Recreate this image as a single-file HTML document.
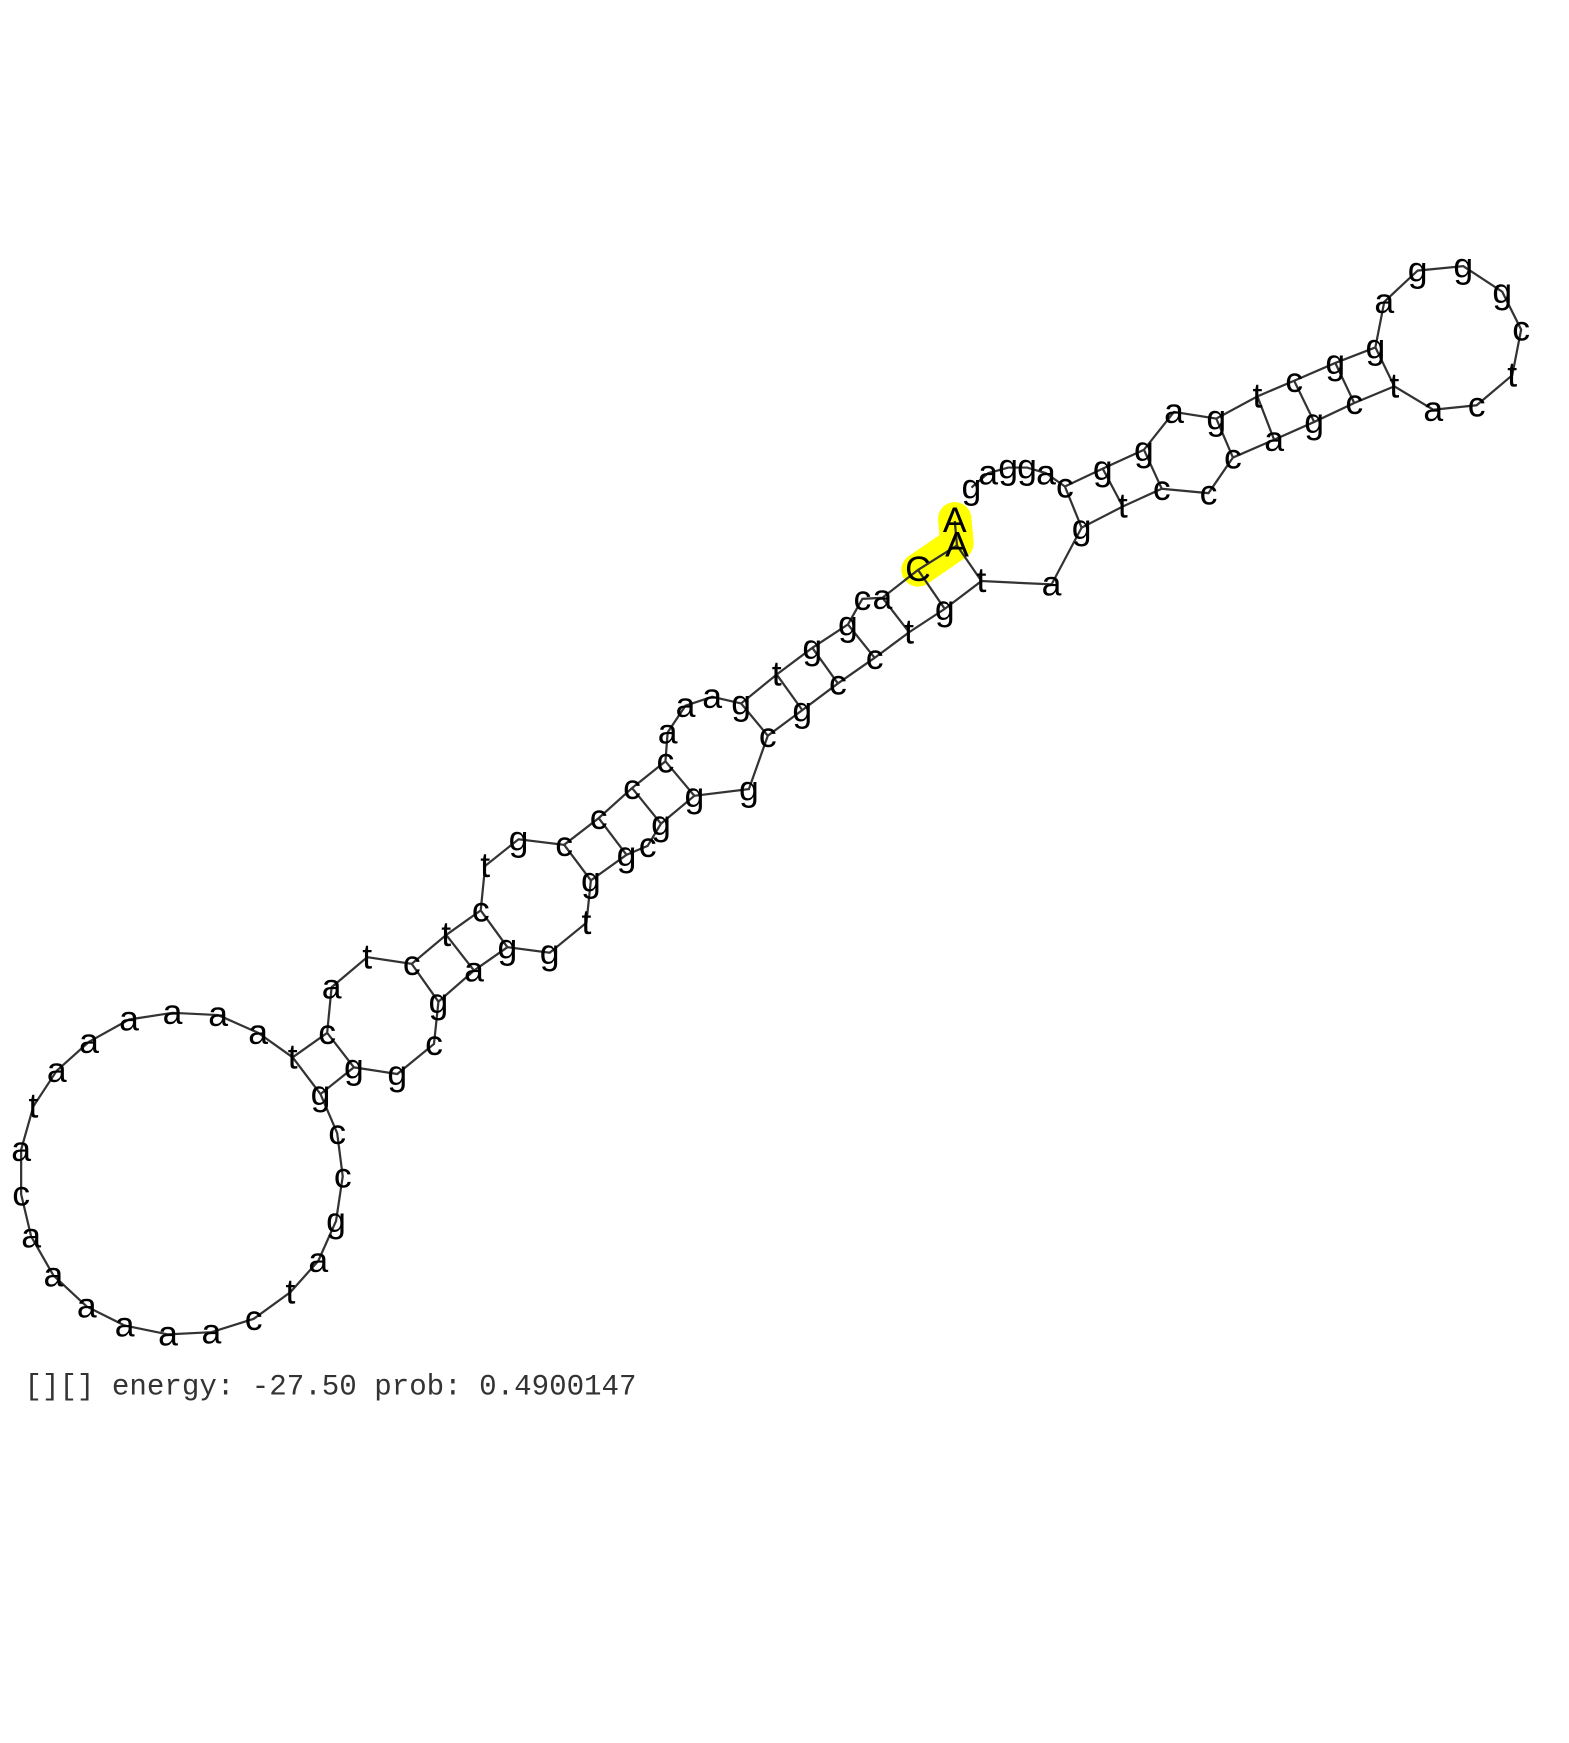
<!DOCTYPE html>
<html><head><meta charset="utf-8"><style>
html,body{margin:0;padding:0;background:#fff;}
svg{display:block;}
.n{font-family:"Liberation Sans",sans-serif;font-size:32px;fill:#000;text-anchor:middle;}
.t{font-family:"Liberation Mono",monospace;font-size:26.2px;fill:#333;}
</style></head><body>
<svg width="1569" height="1743" viewBox="0 0 1410 1566" xmlns="http://www.w3.org/2000/svg">
<rect width="1410" height="1566" fill="#fff"/>
<polyline points="858,466 860,488 825,512" fill="none" stroke="#ffff00" stroke-width="30" stroke-linecap="round" stroke-linejoin="round"/>
<polyline fill="none" stroke="#333" stroke-width="2" points="873,438 888,425 906,420 923,420 940,425 957,437 991,421 1028,404 1055,370 1093,376 1130,356 1163,342 1200,326 1236,312 1244,271 1274,243 1315,239 1350,262 1367,296 1359,337 1327,364 1288,368 1253,347 1217,362 1181,379 1145,395 1108,411 1086,443 1044,439 1009,455 972,474 945,525 882,522 849,547 817,568 786,591 753,614 721,638 690,661 673,709 624,715 594,740 582,760 563,768 531,791 527,829 494,856 456,851 426,872 394,900 390,938 357,965 318,959 288,983 303,1018 308,1057 302,1097 286,1133 261,1161 228,1185 190,1197 151,1199 112,1191 78,1174 48,1146 28,1111 19,1073 19,1033 30,994 51,962 80,936 116,916 155,910 196,912 232,928 263,950 294,928 298,887 330,860 370,866 401,840 432,818 436,778 466,754 507,759 538,735 568,708 598,684 600,658 616,634 640,626 666,632 698,606 730,582 762,561 775,538 793,537 825,512 860,490 858,468"/>
<g stroke="#333" stroke-width="2">
<line x1="263" y1="950" x2="288" y2="983"/><line x1="294" y1="928" x2="318" y2="959"/>
<line x1="370" y1="866" x2="394" y2="900"/><line x1="401" y1="840" x2="426" y2="872"/>
<line x1="432" y1="818" x2="456" y2="851"/><line x1="507" y1="759" x2="531" y2="791"/>
<line x1="538" y1="735" x2="563" y2="768"/><line x1="568" y1="708" x2="594" y2="740"/>
<line x1="598" y1="684" x2="624" y2="715"/><line x1="666" y1="632" x2="690" y2="661"/>
<line x1="698" y1="606" x2="721" y2="638"/><line x1="730" y1="582" x2="753" y2="614"/>
<line x1="762" y1="561" x2="786" y2="591"/><line x1="793" y1="537" x2="817" y2="568"/>
<line x1="825" y1="512" x2="849" y2="547"/><line x1="860" y1="490" x2="882" y2="522"/>
<line x1="957" y1="437" x2="972" y2="474"/><line x1="991" y1="421" x2="1009" y2="455"/>
<line x1="1028" y1="404" x2="1044" y2="439"/><line x1="1093" y1="376" x2="1108" y2="411"/>
<line x1="1130" y1="356" x2="1145" y2="395"/><line x1="1163" y1="342" x2="1181" y2="379"/>
<line x1="1200" y1="326" x2="1217" y2="362"/><line x1="1236" y1="312" x2="1253" y2="347"/>
</g>
<g class="n">
<text x="873" y="448">g</text><text x="888" y="435">a</text><text x="906" y="430">g</text><text x="923" y="430">g</text><text x="940" y="435">a</text><text x="957" y="447">c</text><text x="991" y="431">g</text><text x="1028" y="414">g</text><text x="1055" y="380">a</text><text x="1093" y="386">g</text><text x="1130" y="366">t</text><text x="1163" y="352">c</text><text x="1200" y="336">g</text><text x="1236" y="322">g</text><text x="1244" y="281">a</text><text x="1274" y="253">g</text><text x="1315" y="249">g</text><text x="1350" y="272">g</text><text x="1367" y="306">c</text><text x="1359" y="347">t</text><text x="1327" y="374">c</text><text x="1288" y="378">a</text><text x="1253" y="357">t</text><text x="1217" y="372">c</text><text x="1181" y="389">g</text><text x="1145" y="405">a</text><text x="1108" y="421">c</text><text x="1086" y="453">c</text><text x="1044" y="449">c</text><text x="1009" y="465">t</text><text x="972" y="484">g</text><text x="945" y="535">a</text><text x="882" y="532">t</text><text x="849" y="557">g</text><text x="817" y="578">t</text><text x="786" y="601">c</text><text x="753" y="624">c</text><text x="721" y="648">g</text><text x="690" y="671">c</text><text x="673" y="719">g</text><text x="624" y="725">g</text><text x="594" y="750">g</text><text x="582" y="770">c</text><text x="563" y="778">g</text><text x="531" y="801">g</text><text x="527" y="839">t</text><text x="494" y="866">g</text><text x="456" y="861">g</text><text x="426" y="882">a</text><text x="394" y="910">g</text><text x="390" y="948">c</text><text x="357" y="975">g</text><text x="318" y="969">g</text><text x="288" y="993">g</text><text x="303" y="1028">c</text><text x="308" y="1067">c</text><text x="302" y="1107">g</text><text x="286" y="1143">a</text><text x="261" y="1171">t</text><text x="228" y="1195">c</text><text x="190" y="1207">a</text><text x="151" y="1209">a</text><text x="112" y="1201">a</text><text x="78" y="1184">a</text><text x="48" y="1156">a</text><text x="28" y="1121">a</text><text x="19" y="1083">c</text><text x="19" y="1043">a</text><text x="30" y="1004">t</text><text x="51" y="972">a</text><text x="80" y="946">a</text><text x="116" y="926">a</text><text x="155" y="920">a</text><text x="196" y="922">a</text><text x="232" y="938">a</text><text x="263" y="960">t</text><text x="294" y="938">c</text><text x="298" y="897">a</text><text x="330" y="870">t</text><text x="370" y="876">c</text><text x="401" y="850">t</text><text x="432" y="828">c</text><text x="436" y="788">t</text><text x="466" y="764">g</text><text x="507" y="769">c</text><text x="538" y="745">c</text><text x="568" y="718">c</text><text x="598" y="694">c</text><text x="600" y="668">a</text><text x="616" y="644">a</text><text x="640" y="636">a</text><text x="666" y="642">g</text><text x="698" y="616">t</text><text x="730" y="592">g</text><text x="762" y="571">g</text><text x="775" y="548">c</text><text x="793" y="547">a</text><text x="825" y="522">C</text><text x="860" y="500">A</text><text x="858" y="478">A</text>
</g>
<text class="t" x="22" y="1253">[][] energy: -27.50 prob: 0.4900147</text>
</svg>
</body></html>
